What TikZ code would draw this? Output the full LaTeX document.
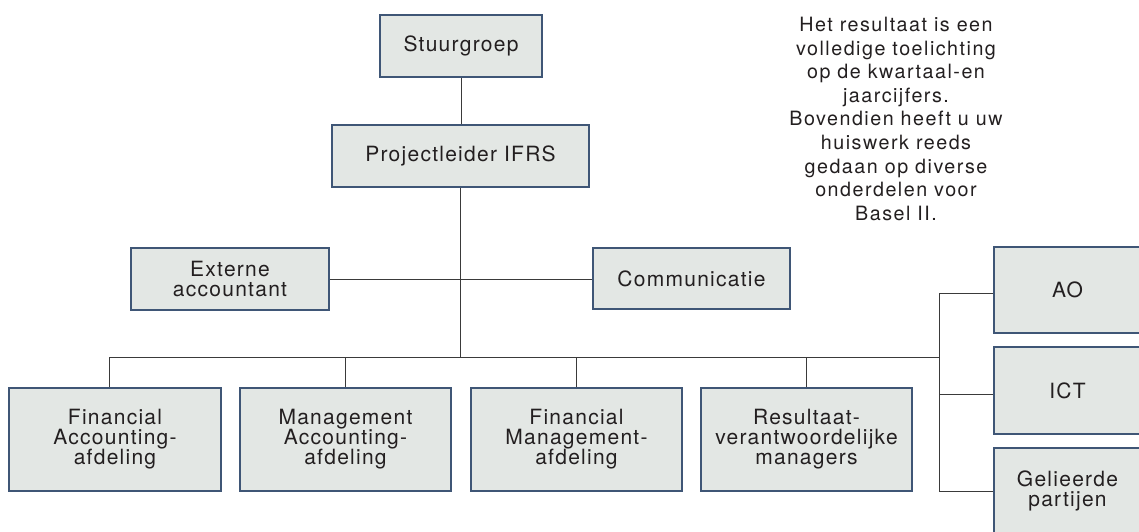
\documentclass[tikz,border=0pt]{standalone}
\usepackage{fontspec}
\setmainfont{TeX Gyre Heros}[LetterSpace=6]
\newfontfamily\parafont{TeX Gyre Heros}[LetterSpace=7.6]
\definecolor{boxfill}{HTML}{E3E7E4}
\definecolor{boxline}{HTML}{3F5676}
\definecolor{conn}{HTML}{3A3A3A}
\definecolor{txt}{HTML}{231F20}
\tikzset{
  orgbox/.style={draw=boxline, line width=1.3pt, fill=boxfill, text=txt,
    inner sep=0pt, align=center, font=\fontsize{21}{20}\selectfont},
  link/.style={draw=conn, line width=1pt},
  notetext/.style={anchor=north, inner sep=0pt, align=center, text=txt,
    font=\parafont\fontsize{19.7}{23.6}\selectfont}
}
\begin{document}
\begin{tikzpicture}[x=1pt,y=-1pt]
\useasboundingbox (0,0) rectangle (1139,531);
% boxes
\node[orgbox, minimum width=162pt, minimum height=62pt] (st) at (461,46) {Stuurgroep};
\node[orgbox, minimum width=257pt, minimum height=62pt] (pl) at (460.5,156) {Projectleider IFRS};
\node[orgbox, minimum width=198pt, minimum height=62pt] (ex) at (230,279) {Externe\\accountant};
\node[orgbox, minimum width=197pt, minimum height=61pt] (co) at (691.5,278.5) {Communicatie};
\node[orgbox, minimum width=212pt, minimum height=103pt] (fa) at (115,439.5) {Financial\\Accounting-\\afdeling};
\node[orgbox, minimum width=211pt, minimum height=103pt] (ma) at (345.5,439.5) {Management\\Accounting-\\afdeling};
\node[orgbox, minimum width=211pt, minimum height=103pt] (fm) at (576.5,439.5) {Financial\\Management-\\afdeling};
\node[orgbox, minimum width=211pt, minimum height=103pt] (rs) at (806.5,439.5) {Resultaat-\\verantwoordelijke\\managers};
\node[orgbox, minimum width=147pt, minimum height=86pt] (ao) at (1067.5,290) {AO};
\node[orgbox, minimum width=147pt, minimum height=87pt] (ict) at (1067.5,390.5) {ICT};
\node[orgbox, minimum width=147pt, minimum height=86pt] (gp) at (1067.5,491) {Gelieerde\\partijen};
% note
\node[notetext] (note) at (896,17) {Het resultaat is een\\volledige toelichting\\op de kwartaal-en\\jaarcijfers.\\Bovendien heeft u uw\\huiswerk reeds\\gedaan op diverse\\onderdelen voor\\Basel II.};
% connectors
\coordinate (bus) at (461,357);
\coordinate (busL) at (109,357);
\coordinate (busR) at (939,357);
\coordinate (rtop) at (939,293);
\coordinate (rmid) at (939,394);
\coordinate (rbot) at (939,491);
\draw[link] (st.south) -- (st.south |- pl.north);
\draw[link] (pl.south) -- (pl.south |- bus);
\draw[link] (ex.east) -- (ex.east -| co.west);
\draw[link] (busL) -- (busR);
\draw[link] (busL) -- (busL |- fa.north);
\draw[link] (ma.north |- bus) -- (ma.north);
\draw[link] (fm.north |- bus) -- (fm.north);
\draw[link] (rs.north |- bus) -- (rs.north);
\draw[link] (rtop) -- (rbot);
\draw[link] (rtop) -- (rtop -| ao.west);
\draw[link] (rmid) -- (rmid -| ict.west);
\draw[link] (rbot) -- (rbot -| gp.west);
\end{tikzpicture}
\end{document}
